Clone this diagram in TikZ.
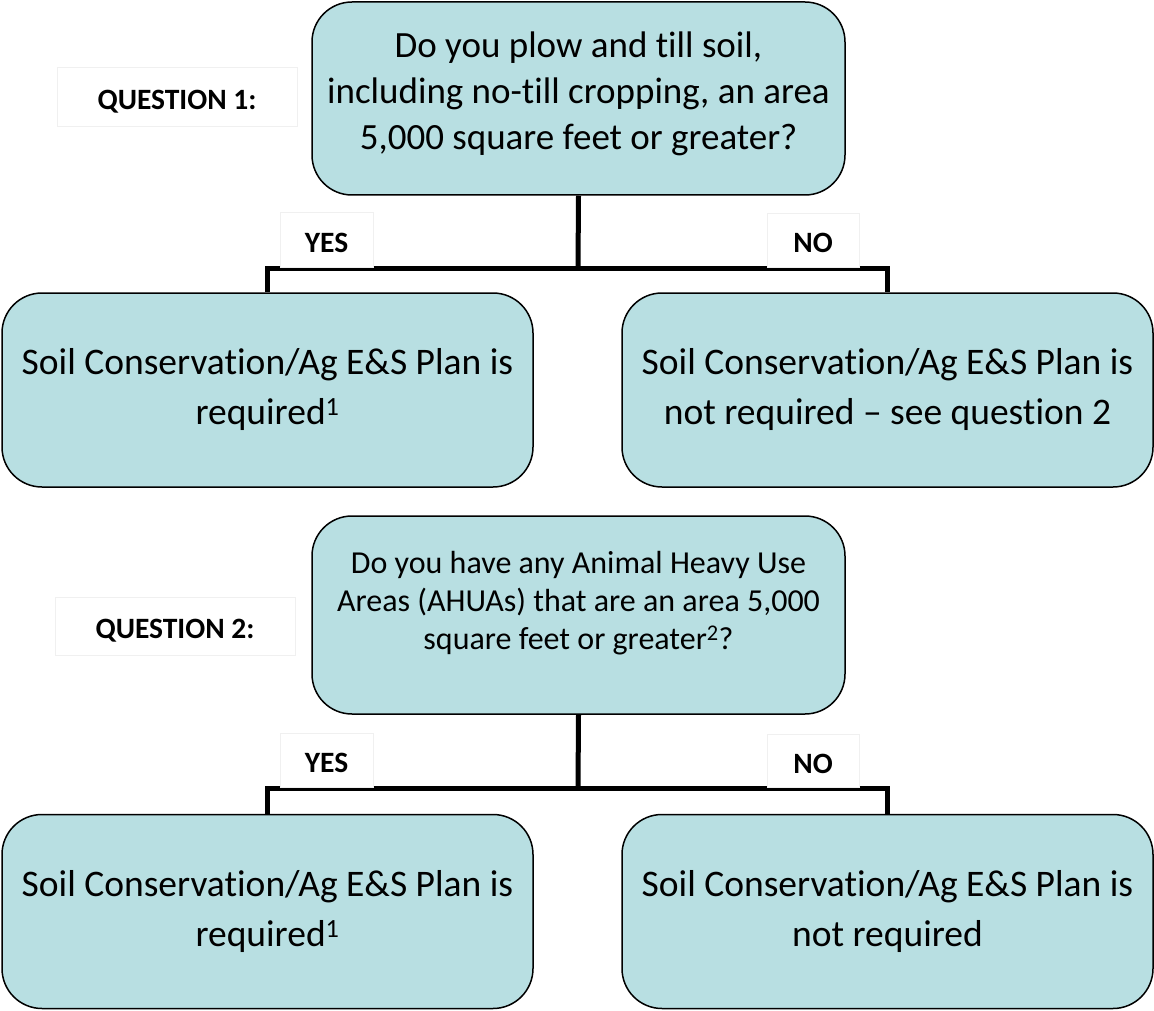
\documentclass[tikz,border=0pt]{standalone}
\usepackage{fontspec}
\setmainfont{Carlito}[Ligatures=NoCommon]
\definecolor{boxfill}{HTML}{B8DFE2}
\definecolor{tagline}{HTML}{F0F0F0}
\begin{document}
\begin{tikzpicture}[x=1pt,y=-1pt,
    qbox/.style={draw,line width=1.5pt,fill=boxfill,rounded corners=40pt,minimum width=533pt,align=center},
    abox/.style={draw,line width=1.5pt,fill=boxfill,rounded corners=40pt,minimum width=531pt,minimum height=194pt,align=center,font=\fontsize{37.5}{50}\selectfont},
    tag/.style={draw=tagline,line width=1pt,fill=white,text height=25pt,text depth=0pt,font=\bfseries\fontsize{29.5}{32}\selectfont},
    conn/.style={line width=5pt}]
                \useasboundingbox (0,0) rectangle (1154,1011);
                \node[qbox,minimum height=193pt,font=\fontsize{37}{46}\selectfont] (q1) at (578.5,98.5) {Do you plow and till soil,\\including no-till cropping, an area\\5,000 square feet or greater?\rule[-16pt]{0pt}{0pt}};
                \node[tag,minimum width=240pt,minimum height=59pt] (t1) at (177,97.5) {QUESTION 1:};
                \node[abox] (a1) at (267.5,390) {Soil Conservation/Ag E\&S Plan is\\required\textsuperscript{1}};
                \node[abox] (b1) at (887.5,390) {Soil Conservation/Ag E\&S Plan is\\not required -- see question 2};
                \coordinate (j1) at (578,268);
                \draw[conn] (q1.south) -- (j1);
                \draw[conn] (a1.north) |- (j1) -| (b1.north);
                \node[tag,minimum width=93pt,minimum height=54pt] (y1) at (326.5,240) {YES};
                \node[tag,minimum width=92pt,minimum height=53pt] (n1) at (813,240.5) {NO};
                \node[qbox,minimum height=198pt,font=\fontsize{32}{38}\selectfont] (q2) at (578.5,615) {Do you have any Animal Heavy Use\\Areas (AHUAs) that are an area 5,000\\square feet or greater\textsuperscript{2}?\rule[-30pt]{0pt}{0pt}};
                \node[tag,minimum width=240pt,minimum height=58pt] (t2) at (175,626) {QUESTION 2:};
                \node[abox] (a2) at (267.5,911.5) {Soil Conservation/Ag E\&S Plan is\\required\textsuperscript{1}};
                \node[abox] (b2) at (887.5,911.5) {Soil Conservation/Ag E\&S Plan is\\not required};
                \coordinate (j2) at (578,788);
                \draw[conn] (q2.south) -- (j2);
                \draw[conn] (a2.north) |- (j2) -| (b2.north);
                \node[tag,minimum width=93pt,minimum height=54pt] (y2) at (326.5,760) {YES};
                \node[tag,minimum width=92pt,minimum height=53pt] (n2) at (813,761) {NO};
            \end{tikzpicture}
\end{document}
